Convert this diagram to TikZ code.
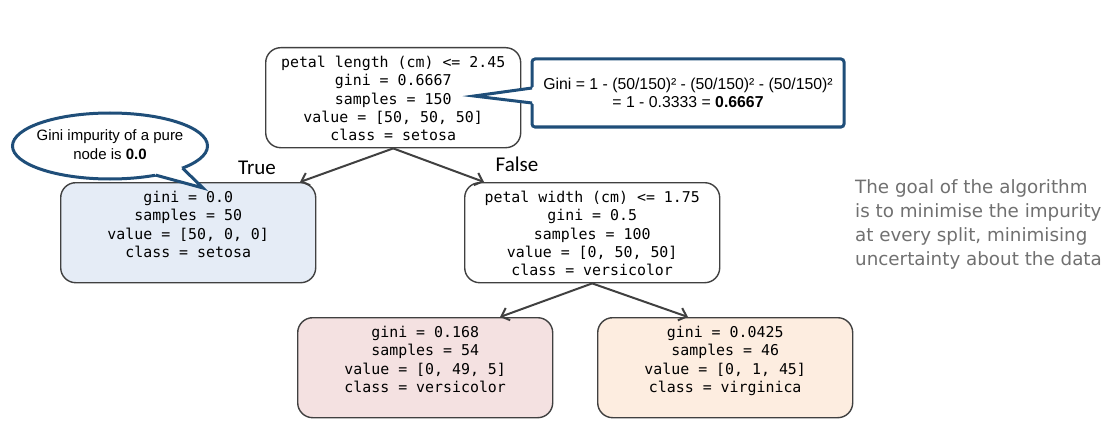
\documentclass[tikz,border=0pt]{standalone}
\usepackage{fontspec}
\setmainfont{Liberation Sans}
\newfontfamily\monof{DejaVu Sans Mono}
\newfontfamily\verd{DejaVu Sans}
\newfontfamily\calib{Carlito}
\usetikzlibrary{arrows.meta,shapes.geometric,calc}
\definecolor{edgegray}{RGB}{64,64,64}
\definecolor{cblue}{RGB}{31,78,121}
\definecolor{fsetosa}{RGB}{229,236,246}
\definecolor{fvers}{RGB}{244,225,225}
\definecolor{fvirg}{RGB}{253,237,224}
\definecolor{notegray}{RGB}{112,112,112}
\newcommand\boxtext[1]{\parbox[t][96pt][t]{250pt}{\centering\vspace*{5pt}\strut#1}}
\tikzset{
 treebox/.style={draw=edgegray, line width=1.4pt, rounded corners=15pt,
   minimum width=255pt, minimum height=100pt, inner sep=0pt, anchor=north west,
   font=\monof\fontsize{14.9}{18.3}\selectfont},
 branch/.style={draw=edgegray, line width=2pt, -{Straight Barb[length=7pt,width=13pt,line width=2pt]}},
 bluebox/.style={draw=cblue, line width=3pt, fill=white},
 edgelabel/.style={font=\calib\fontsize{21}{24}\selectfont},
}
\begin{document}
\begin{tikzpicture}[x=1pt,y=-1pt]
\useasboundingbox (0,0) rectangle (1118,441);
% tree nodes
\node[treebox] (root) at (265,47) {\boxtext{petal length (cm) <= 2.45\\gini = 0.6667\\samples = 150\\value = [50, 50, 50]\\class = setosa}};
\node[treebox, fill=fsetosa] (setosa) at (60,182) {\boxtext{gini = 0.0\\samples = 50\\value = [50, 0, 0]\\class = setosa}};
\node[treebox] (split) at (464,182) {\boxtext{petal width (cm) <= 1.75\\gini = 0.5\\samples = 100\\value = [0, 50, 50]\\class = versicolor}};
\node[treebox, fill=fvers] (vers) at (297,317) {\boxtext{gini = 0.168\\samples = 54\\value = [0, 49, 5]\\class = versicolor}};
\node[treebox, fill=fvirg] (virg) at (597,317) {\boxtext{gini = 0.0425\\samples = 46\\value = [0, 1, 45]\\class = virginica}};
% arrow targets
\coordinate (t1) at (300,182);
\coordinate (t2) at (484,182);
\coordinate (t3) at (500,317);
\coordinate (t4) at (688,317);
\draw[branch] (root.south) -- (t1);
\draw[branch] (root.south) -- (t2);
\draw[branch] (split.south) -- (t3);
\draw[branch] (split.south) -- (t4);
\node[edgelabel] (truelab) at (257,168) {True};
\node[edgelabel] (falselab) at (517,164) {False};
% ellipse callout
\node[ellipse, bluebox, minimum width=195pt, minimum height=66pt, inner sep=0pt,
  font=\fontsize{15}{19}\selectfont] (purenote) at (110,146)
  {\makebox[0pt]{\begin{tabular}{@{}c@{}}Gini impurity of a pure\\node is \textbf{0.0}\end{tabular}}};
\coordinate (e1) at ($(purenote.center)+(62:97.5 and 33)$);
\coordinate (e2) at ($(purenote.center)+(42:97.5 and 33)$);
\coordinate (e1i) at ($(purenote.center)+(62:90 and 27)$);
\coordinate (e2i) at ($(purenote.center)+(42:90 and 27)$);
\coordinate (etip) at (203,188);
\fill[white] (e1i) -- (e1) -- (etip) -- (e2) -- (e2i) -- cycle;
\draw[cblue, line width=3pt, line join=miter] (e1) -- (etip) -- (e2);
% rectangle callout
\node[rectangle, bluebox, rounded corners=3pt, minimum width=312pt, minimum height=68pt,
  inner sep=0pt, font=\fontsize{15.8}{18}\selectfont, align=center] (gininote) at (688,93)
  {Gini = 1 - (50/150)² - (50/150)² - (50/150)²\\= 1 - 0.3333 = \textbf{0.6667}};
\coordinate (r1) at (532,88);
\coordinate (r2) at (532,103);
\coordinate (rtip) at (474,96);
\fill[white] (535,86) -- (r1) -- (rtip) -- (r2) -- (535,105) -- cycle;
\draw[cblue, line width=3pt, line join=miter] (r1) -- (rtip) -- (r2);
% side note
\node[anchor=north west, inner sep=0pt, text=notegray, align=left,
  font=\verd\fontsize{18.3}{24}\selectfont] (goal) at (855,179)
  {The goal of the algorithm\\is to minimise the impurity\\at every split, minimising\\uncertainty about the data};
\end{tikzpicture}
\end{document}
